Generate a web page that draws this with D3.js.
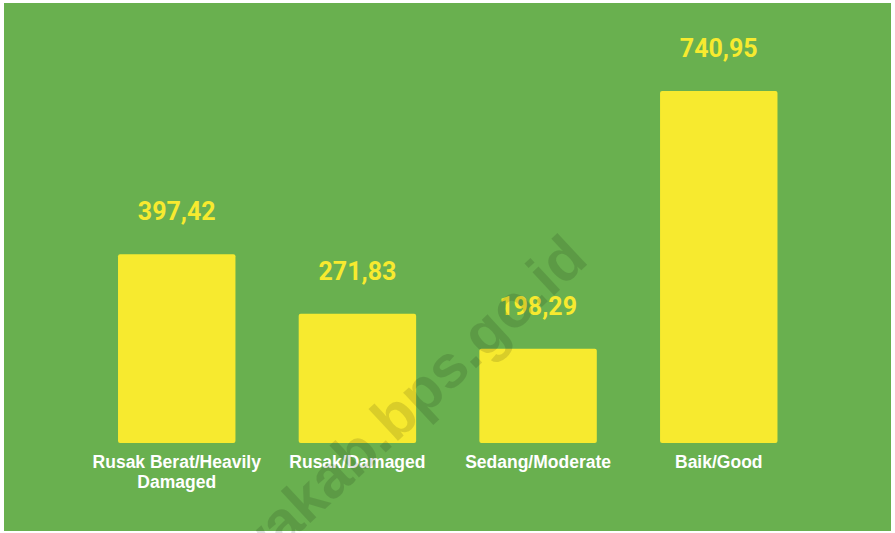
<!DOCTYPE html>
<html>
<head>
<meta charset="utf-8">
<script src="https://cdn.jsdelivr.net/npm/d3@7"></script>
<style>
  html, body { margin: 0; padding: 0; background: #ffffff; }
  svg { display: block; }
</style>
</head>
<body>
<svg id="chart" width="895" height="533"></svg>
<script>
const categories = ["Rusak Berat/Heavily Damaged", "Rusak/Damaged", "Sedang/Moderate", "Baik/Good"];
const categoryLines = [["Rusak Berat/Heavily", "Damaged"], ["Rusak/Damaged"], ["Sedang/Moderate"], ["Baik/Good"]];
const values = [397.42, 271.83, 198.29, 740.95];
const valueLabels = ["397,42", "271,83", "198,29", "740,95"];
const watermark = "sumbawakab.bps.go.id";

const svg = d3.select("#chart");

svg.append("rect").attr("x", 4).attr("y", 3).attr("width", 887).attr("height", 528).attr("fill", "#69b04f");

const x = d3.scaleBand().domain(categories).range([86.4, 809.1]).paddingInner(0.35).paddingOuter(0.175);
const y = d3.scaleLinear().domain([0, 740.95]).range([443, 91]);

const g = svg.append("g");

g.selectAll("rect.bar").data(categories).join("rect")
  .attr("class", "bar")
  .attr("x", d => x(d))
  .attr("y", (d, i) => y(values[i]))
  .attr("width", x.bandwidth())
  .attr("height", (d, i) => y(0) - y(values[i]))
  .attr("rx", 2).attr("ry", 2)
  .attr("fill", "#f7ea2f");

g.selectAll("text.val").data(categories).join("text")
  .attr("class", "val")
  .attr("x", d => x(d) + x.bandwidth() / 2)
  .attr("y", (d, i) => y(values[i]) - 34)
  .attr("text-anchor", "middle")
  .attr("font-family", "Roboto, sans-serif")
  .attr("font-weight", "bold")
  .attr("font-size", 25)
  .attr("fill", "#f7ea2f")
  .text((d, i) => valueLabels[i]);

const cat = g.selectAll("text.cat").data(categories).join("text")
  .attr("class", "cat")
  .attr("text-anchor", "middle")
  .attr("font-family", "'Liberation Sans', Arial, sans-serif")
  .attr("font-weight", "bold")
  .attr("font-size", 17.5)
  .attr("fill", "#ffffff");
cat.each(function(d, i) {
  const t = d3.select(this);
  categoryLines[i].forEach((line, j) => {
    t.append("tspan")
      .attr("x", x(d) + x.bandwidth() / 2)
      .attr("y", 468 + j * 20)
      .text(line);
  });
});

svg.append("text")
  .attr("transform", "translate(590,262) rotate(-43)")
  .attr("text-anchor", "end")
  .attr("font-family", "'Liberation Sans', Arial, sans-serif")
  .attr("font-weight", "bold")
  .attr("font-size", 60)
  .attr("fill", "#000000")
  .attr("fill-opacity", 0.12)
  .text(watermark);
</script>
</body>
</html>
